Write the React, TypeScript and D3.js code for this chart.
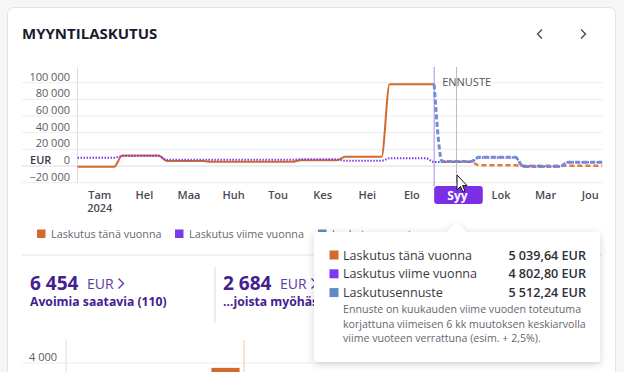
import * as d3 from "d3";

const WIDTH = 624;
const HEIGHT = 372;
const FONT = "'Open Sans', 'Noto Sans', sans-serif";

const ORANGE = "#d4692c";
const ORANGE_LIGHT = "#e27c3e";
const PURPLE = "#7c3aed";
const BLUE = "#6e8fd4";
const BLUE_KEY = "#5d8bc6";
const KPI = "#45208f";

const MONTHS = ["Tam", "Hel", "Maa", "Huh", "Tou", "Kes", "Hei", "Elo", "Syy", "Lok", "Mar", "Jou"];
const Y_TICKS = [-20000, 0, 20000, 40000, 60000, 80000, 100000];

// monthly invoicing, EUR
const THIS_YEAR = [-1000, 12500, 6000, 5000, 5000, 7000, 11000, 98000]; // Tam..Elo, toteutunut
const THIS_YEAR_AHEAD = [5040, 1000, 300, 300]; // Syy..Jou
const LAST_YEAR = [10000, 12000, 7500, 7500, 7500, 8000, 6400, 9200, 4800, 10100, -600, 4400];
const FORECAST = [5512, 10400, -700, 4500]; // Syy..Jou

const FORECAST_START = 8; // Syy
const HOVER = 8; // hovered month index
const DATA_END = 11.77;
const RAMP = 0.18; // month change is drawn as a short ramp

const TOOLTIP_ROWS = [
  { label: "Laskutus tänä vuonna", value: "5 039,64 EUR", color: ORANGE },
  { label: "Laskutus viime vuonna", value: "4 802,80 EUR", color: PURPLE },
  { label: "Laskutusennuste", value: "5 512,24 EUR", color: BLUE_KEY },
];
const TOOLTIP_NOTE = [
  "Ennuste on kuukauden viime vuoden toteutuma",
  "korjattuna viimeisen 6 kk muutoksen keskiarvolla",
  "viime vuoteen verrattuna (esim. + 2,5%).",
];
const LEGEND = [
  { label: "Laskutus tänä vuonna", color: ORANGE },
  { label: "Laskutus viime vuonna", color: PURPLE },
  { label: "Laskutusennuste", color: BLUE_KEY },
];

// lower chart (only its top is visible)
const LOWER_TICKS = [4000];
const LOWER_BARS = [{ month: 3, value: 3800 }];

type Pt = [number, number];

const steps = (values: number[], start: number, end = DATA_END): Pt[] =>
  values.flatMap((v, i) => {
    const x1 = i === values.length - 1 ? end : start + i + 1 - RAMP;
    return [[start + i, v], [x1, v]] as Pt[];
  });

const fmt = (v: number) =>
  (v < 0 ? "\u2212" : "") + d3.format(",")(Math.abs(v)).replace(/,/g, " ");

export default function App() {
  const x = d3.scaleLinear().domain([0, 12]).range([77.5, 612.5]);
  const y = d3.scaleLinear().domain([-20000, 100000]).range([182.7, 82.7]);

  const line = d3
    .line<Pt>()
    .x((d) => x(d[0]))
    .y((d) => y(d[1]))
    .curve(d3.curveMonotoneX);

  const actual = steps(THIS_YEAR, 0, FORECAST_START);
  const last = steps(LAST_YEAR, 0);
  const ahead = steps(THIS_YEAR_AHEAD, FORECAST_START);
  ahead[0] = [FORECAST_START + RAMP, THIS_YEAR_AHEAD[0]];
  const fc = steps(FORECAST, FORECAST_START);
  fc[0] = [FORECAST_START + RAMP, FORECAST[0]];
  const forecast: Pt[] = [[FORECAST_START, THIS_YEAR[THIS_YEAR.length - 1]], ...fc];

  const plotTop = 67;
  const plotBottom = 183;
  const hx = x(HOVER + 0.5);

  // lower chart scale
  const y2 = d3.scaleLinear().domain([0, 4000]).range([460, 363]);
  const x2 = d3.scaleBand().domain(d3.range(12).map(String)).range([66, 602]).padding(0.35);

  return (
    <svg
      width={WIDTH}
      height={HEIGHT}
      style={{ position: "absolute", left: 0, top: 0, fontFamily: FONT }}
    >
      <defs>
        <filter id="shadow" x="-20%" y="-20%" width="140%" height="150%">
          <feDropShadow dx="0" dy="2" stdDeviation="4" floodColor="#000" floodOpacity="0.16" />
        </filter>
      </defs>
      <rect width={WIDTH} height={HEIGHT} fill="#f6f6f7" />
      <rect x={7.5} y={7.5} width={608} height={400} rx={6} fill="#fff" stroke="#e3e3e6" />

      {/* header */}
      <text x={22} y={39} fontSize={15} fontWeight={700} fill="#1b1b30">
        MYYNTILASKUTUS
      </text>
      <path d="M542 29.5 L537.5 34 L542 38.5" fill="none" stroke="#4a4a5e" strokeWidth={1.4} />
      <path d="M581 29.5 L585.5 34 L581 38.5" fill="none" stroke="#4a4a5e" strokeWidth={1.4} />

      {/* grid */}
      {Y_TICKS.map((t) => (
        <g key={t}>
          <line x1={22} x2={x(DATA_END)} y1={y(t)} y2={y(t)} stroke={t === 0 ? "#dcdce0" : "#ececef"} />
          <text x={70} y={y(t) - 2} textAnchor="end" fontSize={11} fill="#5a5a64">
            {fmt(t)}
          </text>
        </g>
      ))}
      <text x={30} y={y(0) - 2} fontSize={11} fontWeight={600} fill="#3a3a44">
        EUR
      </text>
      <line x1={77.5} x2={77.5} y1={plotTop} y2={plotBottom} stroke="#dedee2" />

      {/* forecast + hover markers */}
      <line x1={x(FORECAST_START)} x2={x(FORECAST_START)} y1={plotTop} y2={186} stroke="#a88af0" />
      <line x1={hx} x2={hx} y1={plotTop} y2={plotBottom} stroke="#b8b8c0" />
      <text x={x(FORECAST_START) + 8} y={85.5} fontSize={11} fill="#55555e">
        ENNUSTE
      </text>

      {/* series */}
      <path d={line(actual) ?? ""} fill="none" stroke={ORANGE} strokeWidth={2} />
      <path d={line(ahead) ?? ""} fill="none" stroke={ORANGE_LIGHT} strokeWidth={2.5} strokeDasharray="5 3" />
      <path d={line(last) ?? ""} fill="none" stroke={PURPLE} strokeWidth={2} strokeDasharray="1.5 1.5" />
      <path d={line(forecast) ?? ""} fill="none" stroke={BLUE} strokeWidth={3} strokeDasharray="5 2.5" />

      {/* x axis labels */}
      {MONTHS.map((m, i) =>
        i === HOVER ? (
          <g key={m}>
            <rect x={x(i)} y={186} width={x(i + 1) - x(i) + 4} height={18} rx={3} fill="#7a2fe6" />
            <text x={hx + 1} y={199.5} textAnchor="middle" fontSize={12} fontWeight={700} fill="#fff">
              {m}
            </text>
          </g>
        ) : (
          <text key={m} x={x(i + 0.5)} y={199} textAnchor="middle" fontSize={11} fontWeight={600} fill="#4a4a52">
            {m}
          </text>
        )
      )}
      <text x={x(0.5)} y={212} textAnchor="middle" fontSize={11} fontWeight={600} fill="#4a4a52">
        2024
      </text>

      {/* cursor */}
      <path
        d="M457 175 L457 190 L460.5 186.5 L463 192 L465 191 L462.6 185.6 L467 185.6 Z"
        fill="#fff"
        stroke="#111"
        strokeWidth={1}
      />

      {/* legend */}
      {LEGEND.map((d, i) => {
        const lx = [37, 175, 318][i];
        return (
          <g key={d.label}>
            <rect x={lx} y={229.5} width={8.5} height={8.5} fill={d.color} />
            <text x={lx + 14} y={237.5} fontSize={10.8} fill="#66666e">
              {d.label}
            </text>
          </g>
        );
      })}
      <line x1={22} x2={602} y1={255} y2={255} stroke="#e2e2e6" />

      {/* KPIs */}
      <text x={30} y={289.5} fontSize={19} fontWeight={700} fill={KPI}>6 454</text>
      <text x={87} y={288.5} fontSize={14} fill="#5a3aa6">EUR</text>
      <path d="M118.5 278.5 L123.5 283.5 L118.5 288.5" fill="none" stroke="#5a3aa6" strokeWidth={1.4} />
      <text x={30} y={306} fontSize={12.2} fontWeight={700} fill={KPI}>Avoimia saatavia (110)</text>
      <line x1={215} x2={215} y1={267} y2={323} stroke="#dcdce0" />
      <text x={223} y={289.5} fontSize={19} fontWeight={700} fill={KPI}>2 684</text>
      <text x={280} y={288.5} fontSize={14} fill="#5a3aa6">EUR</text>
      <path d="M311.5 278.5 L316.5 283.5 L311.5 288.5" fill="none" stroke="#5a3aa6" strokeWidth={1.4} />
      <text x={223} y={306} fontSize={12.2} fontWeight={700} fill={KPI}>…joista myöhässä</text>

      {/* lower chart */}
      {LOWER_TICKS.map((t) => (
        <g key={t}>
          <line x1={22} x2={602} y1={y2(t)} y2={y2(t)} stroke="#ececef" />
          <text x={57} y={y2(t) - 2.5} textAnchor="end" fontSize={11} fill="#5a5a64">
            {fmt(t)}
          </text>
        </g>
      ))}
      <line x1={66} x2={66} y1={340} y2={HEIGHT} stroke="#dedee2" />
      {LOWER_BARS.map((b) => (
        <rect key={b.month} x={x2(String(b.month))} y={y2(b.value)} width={x2.bandwidth()} height={HEIGHT - y2(b.value)} fill={ORANGE} />
      ))}
      <line x1={244} x2={244} y1={340} y2={HEIGHT} stroke="#f3c79c" />

      {/* tooltip */}
      <g filter="url(#shadow)">
        <rect x={314} y={232} width={286} height={130} rx={4} fill="#fff" />
        <path d={`M${hx - 10} 232.5 L${hx} 222 L${hx + 10} 232.5 Z`} fill="#fff" />
      </g>
      {TOOLTIP_ROWS.map((r, i) => {
        const cy = 255 + i * 18.8;
        return (
          <g key={r.label}>
            <rect x={329.5} y={cy - 4.5} width={9} height={9} fill={r.color} />
            <text x={343} y={cy + 4.5} fontSize={12.6} fill="#3a3a42">{r.label}</text>
            <text x={586} y={cy + 4.5} textAnchor="end" fontSize={12.6} fontWeight={600} fill="#2e2e36">
              {r.value}
            </text>
          </g>
        );
      })}
      {TOOLTIP_NOTE.map((l, i) => (
        <text key={i} x={343} y={313 + i * 14.5} fontSize={10.6} fill="#66666e">
          {l}
        </text>
      ))}
    </svg>
  );
}
